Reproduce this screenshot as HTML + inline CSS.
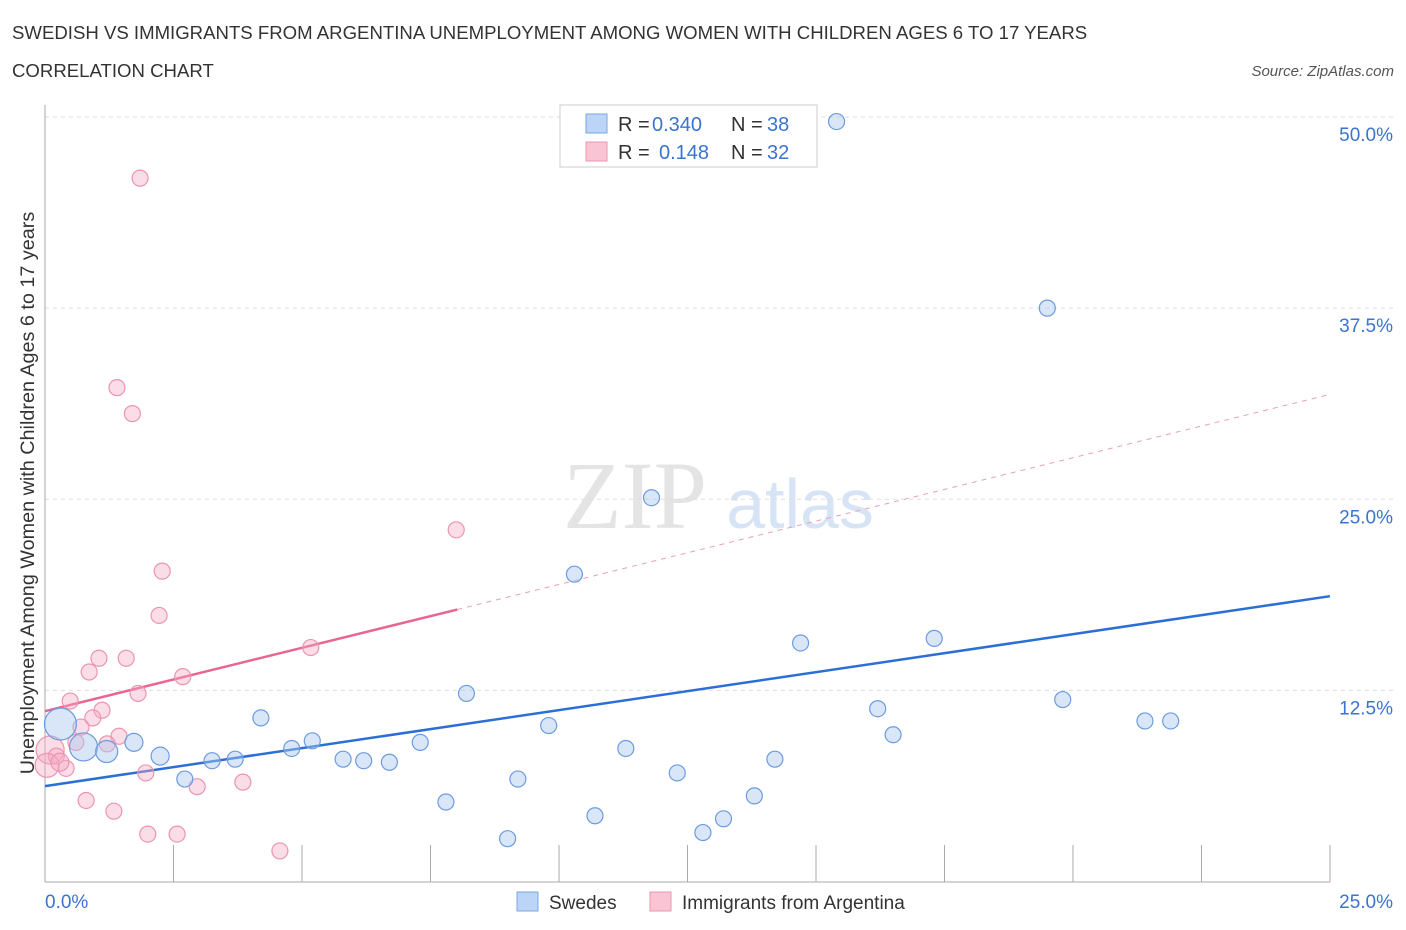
<!DOCTYPE html>
<html><head><meta charset="utf-8"><style>
body{margin:0;background:#fff;font-family:"Liberation Sans",sans-serif;}
svg{display:block}
</style></head><body>
<svg id="chart" width="1406" height="930">
<text x="12" y="39" font-size="18.6" fill="#333">SWEDISH VS IMMIGRANTS FROM ARGENTINA UNEMPLOYMENT AMONG WOMEN WITH CHILDREN AGES 6 TO 17 YEARS</text>
<text x="12" y="77" font-size="18.6" fill="#333">CORRELATION CHART</text>
<text x="1394" y="76" font-size="15" fill="#555" font-style="italic" text-anchor="end">Source: ZipAtlas.com</text>
<text x="635" y="528" font-size="96" fill="#e4e4e4" font-family="Liberation Serif,serif" text-anchor="middle">ZIP</text>
<text x="800" y="528" font-size="70" fill="#d6e4f5" text-anchor="middle">atlas</text>
<text transform="translate(34,493) rotate(-90)" font-size="19.8" fill="#333" text-anchor="middle">Unemployment Among Women with Children Ages 6 to 17 years</text>
<g id="grid"></g><g id="axes"></g><g id="lines"></g><g id="pts"></g>
<g>
<rect x="560" y="105" width="257" height="62" fill="#fff" stroke="#ccc"/>
<rect x="586" y="114" width="21" height="19" fill="#bcd4f6" stroke="#7aa6e6"/>
<rect x="586" y="142" width="21" height="19" fill="#f9c5d4" stroke="#ee94b0"/>
<text x="618" y="131" font-size="20" fill="#333">R =</text>
<text x="652" y="131" font-size="20" fill="#3b73d1">0.340</text>
<text x="731" y="131" font-size="20" fill="#333">N =</text>
<text x="767" y="131" font-size="20" fill="#3b73d1">38</text>
<text x="618" y="159" font-size="20" fill="#333">R =</text>
<text x="659" y="159" font-size="20" fill="#3b73d1">0.148</text>
<text x="731" y="159" font-size="20" fill="#333">N =</text>
<text x="767" y="159" font-size="20" fill="#3b73d1">32</text>
</g>
<g>
<rect x="517" y="892" width="21" height="19" fill="#bcd4f6" stroke="#7aa6e6"/>
<text x="549" y="909" font-size="19" fill="#333">Swedes</text>
<rect x="650" y="892" width="21" height="19" fill="#f9c5d4" stroke="#ee94b0"/>
<text x="682" y="909" font-size="19" fill="#333">Immigrants from Argentina</text>
</g>
</svg>
<script>
const yTicks=[12.5,25,37.5,50];
const yTickLabels=["12.5%","25.0%","37.5%","50.0%"];
const xTickLabels=["0.0%","25.0%"];
const swedesX=[15.4,19.5,11.8,10.3,14.7,17.3,8.2,19.8,16.2,21.4,21.9,4.2,9.8,16.5,0.3,0.75,1.2,1.73,2.24,5.2,4.8,7.3,11.3,3.25,3.7,5.8,6.2,6.7,14.2,2.72,9.2,12.3,13.8,7.8,10.7,13.2,12.8,9.0];
const swedesY=[49.7,37.5,25.1,20.1,15.6,15.9,12.3,11.9,11.3,10.5,10.5,10.7,10.2,9.6,10.3,8.8,8.5,9.1,8.2,9.2,8.7,9.1,8.7,7.9,8.0,8.0,7.9,7.8,8.0,6.7,6.7,7.1,5.6,5.2,4.3,4.1,3.2,2.8];
const swedesR=[8,8,8,8,8,8,8,8,8,8,8,8,8,8,16,14,11,9,9,8,8,8,8,8,8,8,8,8,8,8,8,8,8,8,8,8,8,8];
const argX=[1.85,1.4,1.7,8.0,2.28,2.22,5.17,1.05,1.58,0.86,2.68,1.81,0.49,1.11,0.93,0.7,1.44,1.21,0.6,0.1,0.22,0.41,1.96,3.85,2.96,0.8,1.34,2.0,2.57,4.57,0.04,0.29];
const argY=[46.0,32.3,30.6,23.0,20.3,17.4,15.3,14.6,14.6,13.7,13.4,12.3,11.8,11.2,10.7,10.1,9.5,9.0,9.1,8.6,8.2,7.4,7.1,6.5,6.2,5.3,4.6,3.1,3.1,2.0,7.6,7.8];
const argR=[8,8,8,8,8,8,8,8,8,8,8,8,8,8,8,8,8,8,8,14,8,8,8,8,8,8,8,8,8,8,12,9];
const swedesTrend=[6.24,18.66];
const argTrend=[11.14,31.86];
const argSolidEnd=8.02;

const NS="http://www.w3.org/2000/svg";
const X0=45,X1=1330,Y0=881.5,Y50=117;
const xs=v=>X0+v*(X1-X0)/25;
const ys=v=>Y0-v*(Y0-Y50)/50;
function mk(tag,attrs,parent){const e=document.createElementNS(NS,tag);for(const k in attrs)e.setAttribute(k,attrs[k]);document.getElementById(parent).appendChild(e);return e;}
yTicks.forEach((t,i)=>{
  const g=mk('line',{x1:X0,x2:1395,y1:ys(t),y2:ys(t),stroke:'#ddd','stroke-dasharray':'4,4'},'grid');
  
  
  const l=mk('text',{x:1393,y:ys(t)+24,'font-size':19,fill:'#3b73d1','text-anchor':'end'},'grid');
  l.textContent=yTickLabels[i];
  
  
});
const ax=mk('line',{x1:X0,x2:X0,y1:105,y2:882,stroke:'#aaa'},'axes');


const bx=mk('line',{x1:X0,x2:X1,y1:882,y2:882,stroke:'#aaa'},'axes');


for(let i=0;i<=10;i++){
  const t=mk('line',{x1:xs(i*2.5),x2:xs(i*2.5),y1:845,y2:882,stroke:'#aaa'},'axes');
  
  
}
[[0,'start',45],[25,'end',1393]].forEach((d,i)=>{
  const t=mk('text',{x:d[2],y:908,'font-size':19,fill:'#3b73d1','text-anchor':d[1]},'axes');
  t.textContent=xTickLabels[i];
  
  
});
const at=(tr,x)=>tr[0]+(tr[1]-tr[0])*x/25;
const bl=mk('line',{x1:xs(0),y1:ys(at(swedesTrend,0)),x2:xs(25),y2:ys(at(swedesTrend,25)),stroke:'#2b6fd6','stroke-width':2.5},'lines');


const pl=mk('line',{x1:xs(0),y1:ys(at(argTrend,0)),x2:xs(argSolidEnd),y2:ys(at(argTrend,argSolidEnd)),stroke:'#e8668f','stroke-width':2.5},'lines');


const pd=mk('line',{x1:xs(argSolidEnd),y1:ys(at(argTrend,argSolidEnd)),x2:xs(25),y2:ys(at(argTrend,25)),stroke:'#e8a0b6','stroke-width':1,'stroke-dasharray':'5,5'},'lines');


argX.forEach((x,i)=>{
  const c=mk('circle',{cx:xs(x),cy:ys(argY[i]),r:argR[i],fill:'rgba(246,170,194,0.4)',stroke:'#eb95b0','stroke-width':1.2},'pts');
  
  
});
swedesX.forEach((x,i)=>{
  const c=mk('circle',{cx:xs(x),cy:ys(swedesY[i]),r:swedesR[i],fill:'rgba(170,200,240,0.45)',stroke:'#6c9be0','stroke-width':1.2},'pts');
  
  
});
</script>
</body></html>
